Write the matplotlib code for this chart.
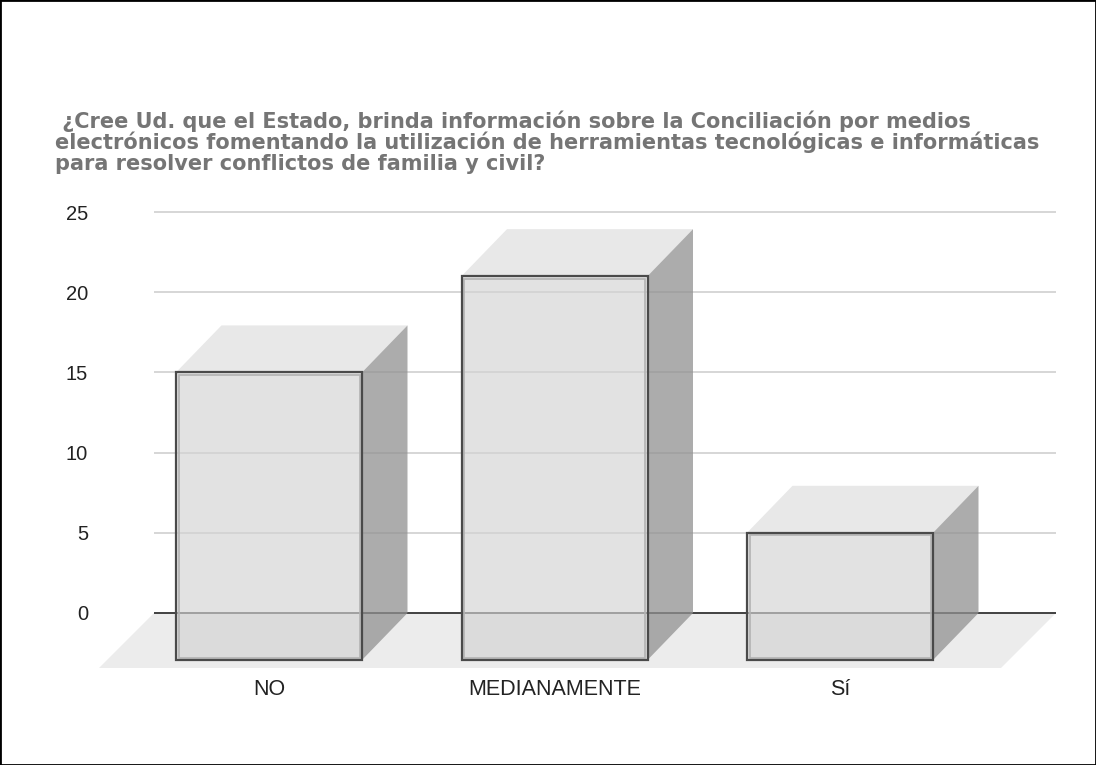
import matplotlib
matplotlib.use("Agg")
import matplotlib.pyplot as plt
from matplotlib.patches import Polygon, Rectangle

# ---- data ----
categories = ["NO", "MEDIANAMENTE", "Sí"]
values = [15, 21, 5]
y_ticks = [0, 5, 10, 15, 20, 25]
title_lines = [
    " ¿Cree Ud. que el Estado, brinda información sobre la Conciliación por medios",
    "electrónicos fomentando la utilización de herramientas tecnológicas e informáticas",
    "para resolver conflictos de familia y civil?",
]

plt.rcParams['font.family'] = ['Liberation Sans', 'DejaVu Sans']

W, H = 1096, 765
fig = plt.figure(figsize=(W / 100, H / 100), dpi=100)

# axes geometry (pixel-based layout)
px_per_cat = 285.5
px_per_unit = 16.04
x0_px = 269.0          # pixel position of first category (front face centre)
zero_px = 613.0        # pixel row of value 0
left_px, right_px = 99.0, 1056.0
ylo, yhi = -3.5, 25.5

xlo = (left_px - x0_px) / px_per_cat
xhi = (right_px - x0_px) / px_per_cat
bot_px = zero_px - ylo * px_per_unit
top_px = zero_px - yhi * px_per_unit
ax = fig.add_axes([left_px / W, (H - bot_px) / H,
                   (right_px - left_px) / W, (bot_px - top_px) / H])
ax.set_xlim(xlo, xhi)
ax.set_ylim(ylo, yhi)
for s in ax.spines.values():
    s.set_visible(False)

# 3D offsets
depth_dx = 45.5 / px_per_cat
depth_dy = 47.0 / px_per_unit
floor_d = 55.0
bar_w = 186.0 / px_per_cat

# floor
gx0 = (154 - x0_px) / px_per_cat
fdx = floor_d / px_per_cat
fdy = floor_d / px_per_unit
floor = Polygon([(gx0, 0), (xhi, 0), (xhi - fdx, -fdy), (gx0 - fdx, -fdy)],
                closed=True, facecolor='#ececec', edgecolor='none', zorder=1)
ax.add_patch(floor)

# gridlines
ax.hlines([t for t in y_ticks if t != 0], gx0, xhi, colors='#cccccc', lw=1.1, zorder=2)
ax.hlines([0], gx0, xhi, colors='#333333', lw=1.3, zorder=2)

# bars
for i, v in enumerate(values):
    L = i - bar_w / 2
    R = i + bar_w / 2
    b = -depth_dy
    top = Polygon([(L, v), (R, v), (R + depth_dx, v + depth_dy), (L + depth_dx, v + depth_dy)],
                  closed=True, facecolor='#e8e8e8', edgecolor='none', zorder=3)
    side = Polygon([(R, v), (R + depth_dx, v + depth_dy), (R + depth_dx, b + depth_dy), (R, b)],
                   closed=True, facecolor='#919191', alpha=0.75, edgecolor='none', zorder=3)
    ax.add_patch(top)
    ax.add_patch(side)
    front = Rectangle((L, b), bar_w, v - b, facecolor='#d3d3d3', alpha=0.65,
                      edgecolor='none', zorder=4)
    ax.add_patch(front)
    ax.add_patch(Rectangle((L, b), bar_w, v - b, facecolor='none',
                           edgecolor='#4a4a4a', lw=1.6, zorder=6))
    ix = 2.5 / px_per_cat
    iy = 2.5 / px_per_unit
    ax.add_patch(Rectangle((L + ix, b + iy), bar_w - 2 * ix, v - b - 2 * iy,
                           facecolor='none', edgecolor='#b3b3b3', lw=1.2, zorder=5))

# ticks
ax.set_yticks(y_ticks)
ax.set_yticklabels([str(t) for t in y_ticks], fontsize=14.5, color='#222222')
ax.set_xticks(range(len(categories)))
ax.set_xticklabels(categories, fontsize=15.5, color='#222222')
ax.tick_params(axis='y', length=0, pad=8)
ax.tick_params(axis='x', length=0, pad=7)

# title
title_y_px = [128, 149, 170]
for line, yp in zip(title_lines, title_y_px):
    fig.text(55 / W, (H - yp) / H, line, fontsize=15, fontweight='bold',
             family=['DejaVu Sans'], color='#757575', ha='left', va='baseline')

# figure border
fig.patches.append(Rectangle((0, 0), 1, 1, transform=fig.transFigure, fill=False,
                             edgecolor='black', lw=2, zorder=10))

fig.savefig("out.png", dpi=100, facecolor='white')
